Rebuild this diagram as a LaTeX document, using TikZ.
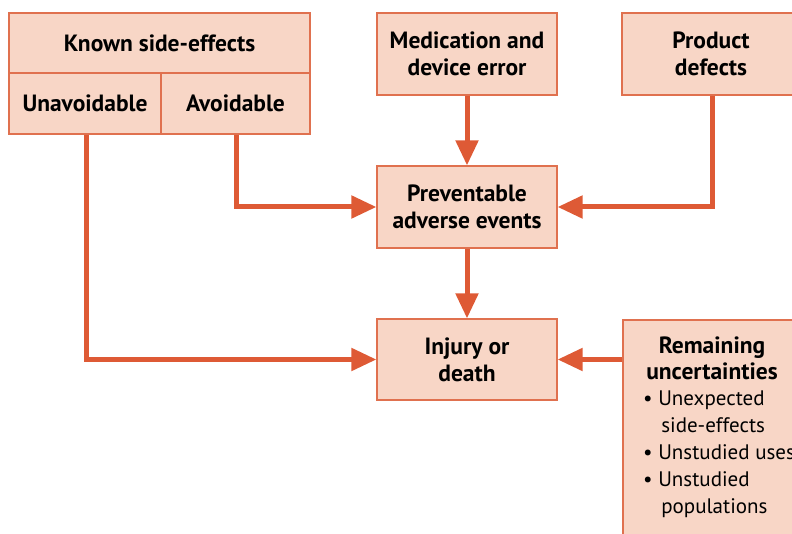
\documentclass[tikz,border=0pt]{standalone}
\usepackage{fontspec}
\setmainfont{PT Sans}
\usetikzlibrary{arrows.meta}
\definecolor{arrowc}{HTML}{DE5A35}
\definecolor{fillc}{HTML}{F8D6C6}
\definecolor{linec}{HTML}{E0714F}
\begin{document}
\begin{tikzpicture}[x=1pt,y=-1pt,
  box/.style={draw=linec,fill=fillc,line width=1.2pt,inner sep=0pt,align=center,
    font=\fontsize{23.5}{27}\selectfont\bfseries},
  conn/.style={draw=arrowc,line width=5pt,-{Triangle[length=25pt,width=22pt]}}]
\useasboundingbox (0,0) rectangle (792,534);
\clip (0,0) rectangle (792,534);
% Known side-effects
\node[box,minimum width=301pt,minimum height=60pt] (ks) at (159.5,43) {Known side-effects};
\node[box,minimum width=152pt,minimum height=61pt] (unav) at (85,103.5) {Unavoidable};
\node[box,minimum width=149pt,minimum height=61pt] (av) at (235.5,103.5) {Avoidable};
% Other boxes
\node[box,minimum width=180pt,minimum height=82pt] (med) at (467,54) {Medication and\\device error};
\node[box,minimum width=178pt,minimum height=82pt] (prod) at (711,54) {Product\\defects};
\node[box,minimum width=180pt,minimum height=82pt] (prev) at (467,207) {Preventable\\adverse events};
\node[box,minimum width=180pt,minimum height=81pt] (inj) at (467,359.5) {Injury or\\death};
\node[box,minimum width=178pt,minimum height=240pt] (rem) at (712,440) {};
\node[font=\fontsize{23.5}{26}\selectfont\bfseries,align=center,anchor=north] (remt) at (712,333) {Remaining\\uncertainties};
\node[font=\fontsize{21}{26.8}\selectfont,align=left,anchor=north west,inner sep=0pt] (reml) at (643,391)
 {\textbullet\ Unexpected\\\hphantom{\textbullet\ }\kern3pt side-effects\\\textbullet\ Unstudied uses\\\textbullet\ Unstudied\\\hphantom{\textbullet\ }\kern3pt populations};
% Connectors
\draw[conn] (86,0 |- unav.south) -- (86,0 |- inj.west) -- (inj.west);
\draw[conn] (236,0 |- av.south) -- (236,0 |- prev.west) -- (prev.west);
\draw[conn] (med.south) -- (prev.north);
\draw[conn] (712,0 |- prod.south) -- (712,0 |- prev.east) -- (prev.east);
\draw[conn] (prev.south) -- (inj.north);
\draw[conn] (rem.west |- inj.east) -- (inj.east);
\end{tikzpicture}
\end{document}
